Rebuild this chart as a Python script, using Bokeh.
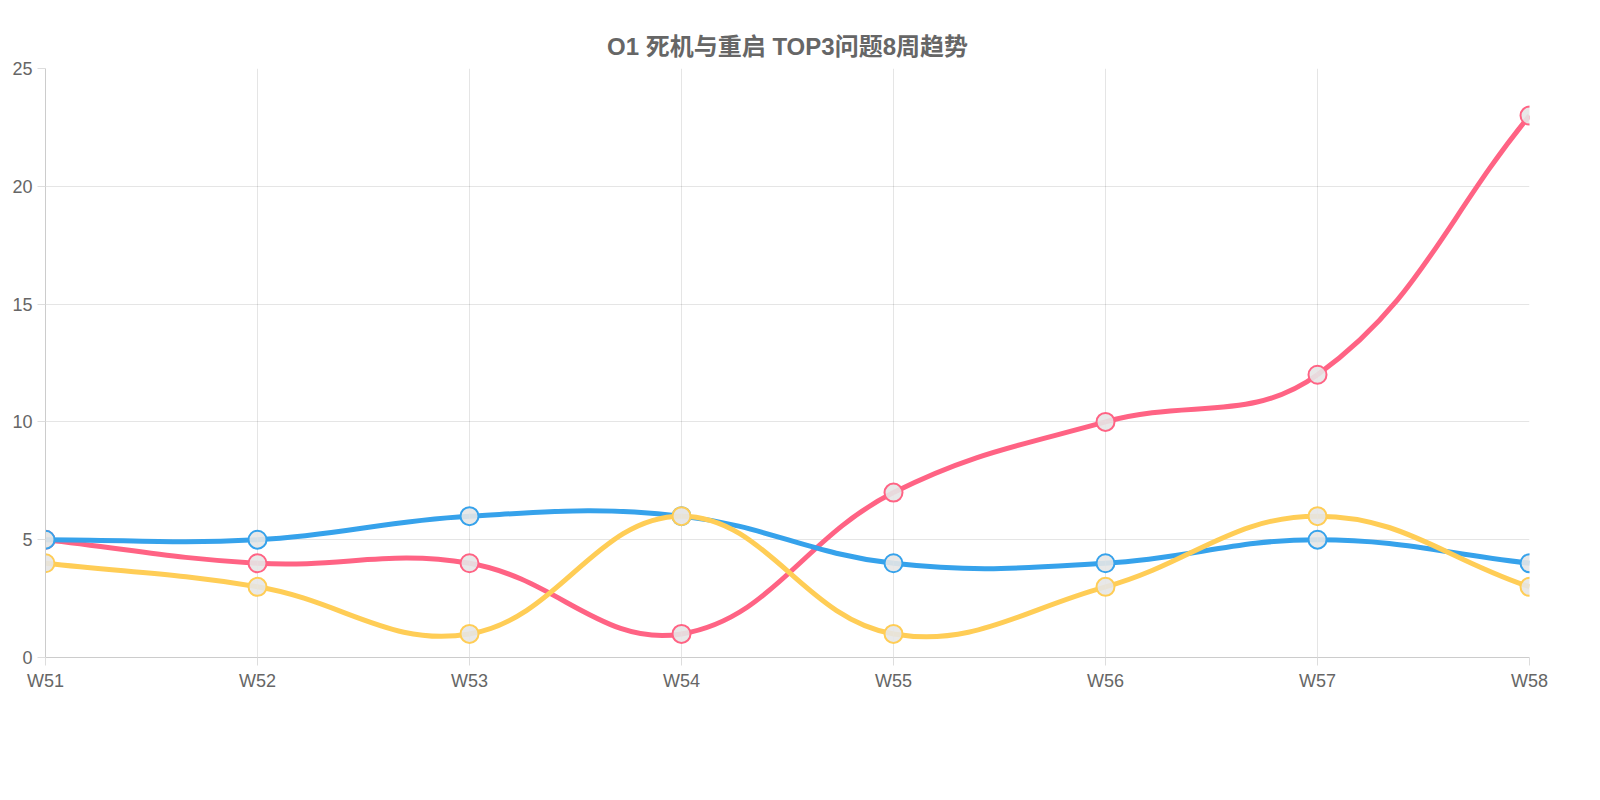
import numpy as np
from bokeh.plotting import figure
from bokeh.models import Legend, LegendItem, FixedTicker, Range1d
from bokeh.embed import file_html
from bokeh.resources import INLINE

weeks = ["W51", "W52", "W53", "W54", "W55", "W56", "W57", "W58"]
top1 = [5, 4, 4, 1, 7, 10, 12, 23]
top2 = [5, 5, 6, 6, 4, 4, 5, 4]
top3 = [4, 3, 1, 6, 1, 3, 6, 3]
names = ["TOP1: 死机", "TOP2: 死机后自动重启", "TOP3: 异常重启"]
colors = ["#ff6384", "#36a2eb", "#ffcd56"]

FONT = "Liberation Sans, Arial, Noto Sans CJK SC"
p = figure(frame_width=1484, frame_height=589, output_backend="svg", toolbar_location=None,
           x_range=Range1d(0, 7), y_range=Range1d(0, 25),
           min_border_left=45, min_border_right=55, min_border_top=68, min_border_bottom=10)
p.title.text = "O1 死机与重启 TOP3问题8周趋势"
p.title.align = "center"
p.title.text_font = FONT
p.title.text_font_size = "24px"
p.title.text_color = "#666666"
p.title.text_font_style = "bold"
p.title.standoff = 18
p.outline_line_color = None

xs = list(range(len(weeks)))
sx, sy = 1484 / 7, 589 / 25
t = 0.4

def bez(ys):
    P = [(x * sx, y * sy) for x, y in zip(xs, ys)]
    n = len(P)
    cp_prev, cp_next = [], []
    for i in range(n):
        p0 = P[i - 1] if i > 0 else P[i]
        p1 = P[i]
        p2 = P[i + 1] if i < n - 1 else P[i]
        d01 = np.hypot(p1[0] - p0[0], p1[1] - p0[1])
        d12 = np.hypot(p2[0] - p1[0], p2[1] - p1[1])
        s = d01 + d12
        s01 = d01 / s if s else 0
        s12 = d12 / s if s else 0
        fa, fb = t * s01, t * s12
        cp_prev.append((p1[0] - fa * (p2[0] - p0[0]), p1[1] - fa * (p2[1] - p0[1])))
        cp_next.append((p1[0] + fb * (p2[0] - p0[0]), p1[1] + fb * (p2[1] - p0[1])))
    def cl(c):
        return (min(max(c[0] / sx, 0), 7), min(max(c[1] / sy, 0), 25))
    d = dict(x0=[], y0=[], x1=[], y1=[], cx0=[], cy0=[], cx1=[], cy1=[])
    for i in range(n - 1):
        a, b = cl(cp_next[i]), cl(cp_prev[i + 1])
        d["x0"].append(xs[i]); d["y0"].append(ys[i])
        d["x1"].append(xs[i + 1]); d["y1"].append(ys[i + 1])
        d["cx0"].append(a[0]); d["cy0"].append(a[1])
        d["cx1"].append(b[0]); d["cy1"].append(b[1])
    return d

items = []
for ys, c, nm in zip([top1, top2, top3], colors, names):
    p.bezier(source=bez(ys), x0="x0", y0="y0", x1="x1", y1="y1",
             cx0="cx0", cy0="cy0", cx1="cx1", cy1="cy1", line_color=c, line_width=5)
    p.scatter(xs, ys, size=18, fill_color="#e6e6e6", fill_alpha=0.9,
              line_color=c, line_width=2)
    r = p.rect([-10], [-10], 1, 1, fill_color="#e6e6e6", line_color=c, line_width=4)
    items.append(LegendItem(label=nm, renderers=[r]))

leg = Legend(items=items, orientation="horizontal", location="center",
             glyph_width=80, glyph_height=24, label_text_font=FONT,
             label_text_font_size="18px", label_text_color="#666666",
             border_line_color=None, spacing=14, padding=4, margin=20)
p.add_layout(leg, "below")

for ax in (p.xaxis, p.yaxis):
    ax.major_label_text_font = FONT
    ax.major_label_text_font_size = "18px"
    ax.major_label_text_color = "#666666"
    ax.axis_line_color = "#cccccc"
    ax.major_tick_line_color = "#dddddd"
    ax.major_tick_out = 8
    ax.major_tick_in = 0
    ax.minor_tick_line_color = None
p.xaxis.ticker = FixedTicker(ticks=xs)
p.xaxis.major_label_overrides = {i: w for i, w in enumerate(weeks)}
p.yaxis.ticker = FixedTicker(ticks=[0, 5, 10, 15, 20, 25])
p.grid.grid_line_color = "#000000"
p.grid.grid_line_alpha = 0.1

open("out.html", "w").write(file_html(p, INLINE))
